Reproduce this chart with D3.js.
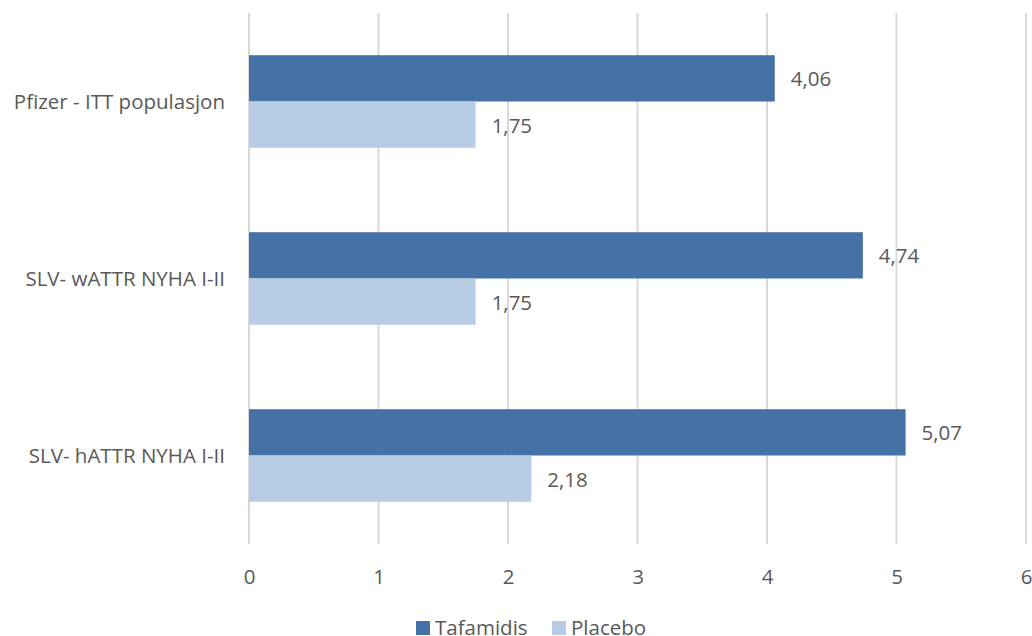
<!DOCTYPE html>
<html>
<head>
<meta charset="utf-8">
<script src="https://cdn.jsdelivr.net/npm/d3@7"></script>
<style>
  html, body { margin: 0; padding: 0; background: #fff; }
  text { font-family: "Open Sans", "Noto Sans", sans-serif; fill: #595959; }
</style>
</head>
<body>
<svg id="chart" width="1032" height="636"></svg>
<script>
// Categories (top to bottom) and series values
const categories = ["Pfizer - ITT populasjon", "SLV- wATTR NYHA I-II", "SLV- hATTR NYHA I-II"];
const seriesNames = ["Tafamidis", "Placebo"];
const tafamidis = [4.06, 4.74, 5.07];
const placebo = [1.75, 1.75, 2.18];
const xTicks = [0, 1, 2, 3, 4, 5, 6];

const colors = { Tafamidis: "#4472a6", Placebo: "#b8cce4" };
const FONT = '"Open Sans", "Noto Sans", sans-serif';
const FS = "20.5px";

const svg = d3.select("#chart");
const plot = { left: 249, right: 1026, top: 13, bottom: 544 };

const x = d3.scaleLinear().domain([0, 6]).range([plot.left, plot.right]);
const y0 = d3.scaleBand().domain(categories).range([plot.top, plot.bottom])
  .paddingInner(0.477).paddingOuter(0.2385);
const y1 = d3.scaleBand().domain(seriesNames).range([0, y0.bandwidth()]);

// Vertical gridlines
svg.append("g")
  .selectAll("line")
  .data(xTicks)
  .join("line")
  .attr("x1", d => x(d)).attr("x2", d => x(d))
  .attr("y1", plot.top).attr("y2", plot.bottom)
  .attr("stroke", "#d9d9d9").attr("stroke-width", 2);

// X axis tick labels
const xAxis = d3.axisBottom(x).tickValues(xTicks).tickSize(0).tickPadding(0).tickFormat(d3.format("d"));
const xg = svg.append("g").attr("transform", `translate(0,${plot.bottom})`).call(xAxis);
xg.select(".domain").remove();
xg.selectAll("text")
  .attr("dy", null).attr("y", 40)
  .style("font-size", FS)
  .style("font-family", FONT)
  .attr("fill", "#595959");

// Category labels
const yAxis = d3.axisLeft(y0).tickSize(0).tickPadding(24);
const yg = svg.append("g").attr("transform", `translate(${plot.left},0)`).call(yAxis);
yg.select(".domain").remove();
yg.selectAll("text")
  .attr("dy", null).attr("y", 7.5)
  .style("font-size", FS)
  .style("font-family", FONT)
  .attr("fill", "#595959");

// Bars
const rows = categories.map((c, i) => ({
  category: c,
  values: [
    { series: "Tafamidis", value: tafamidis[i] },
    { series: "Placebo", value: placebo[i] }
  ]
}));

const groups = svg.append("g").selectAll("g")
  .data(rows)
  .join("g")
  .attr("transform", d => `translate(0,${y0(d.category)})`);

groups.selectAll("rect")
  .data(d => d.values)
  .join("rect")
  .attr("x", x(0))
  .attr("y", d => y1(d.series))
  .attr("width", d => x(d.value) - x(0))
  .attr("height", y1.bandwidth())
  .attr("fill", d => colors[d.series]);

// Value labels
const fmt = v => d3.format(".2f")(v).replace(".", ",");
groups.selectAll("text.value")
  .data(d => d.values)
  .join("text")
  .attr("class", "value")
  .attr("x", d => x(d.value) + 16)
  .attr("y", d => y1(d.series) + y1.bandwidth() / 2 + 8)
  .style("font-size", FS)
  .text(d => fmt(d.value));

// Legend
const legend = svg.append("g").attr("transform", "translate(416,621)");
const legendItems = [
  { name: "Tafamidis", x: 0 },
  { name: "Placebo", x: 136 }
];
const li = legend.selectAll("g").data(legendItems).join("g")
  .attr("transform", d => `translate(${d.x},0)`);
li.append("rect").attr("width", 14).attr("height", 14).attr("fill", d => colors[d.name]);
li.append("text").attr("x", 19).attr("y", 14)
  .style("font-size", FS).text(d => d.name);
</script>
</body>
</html>
